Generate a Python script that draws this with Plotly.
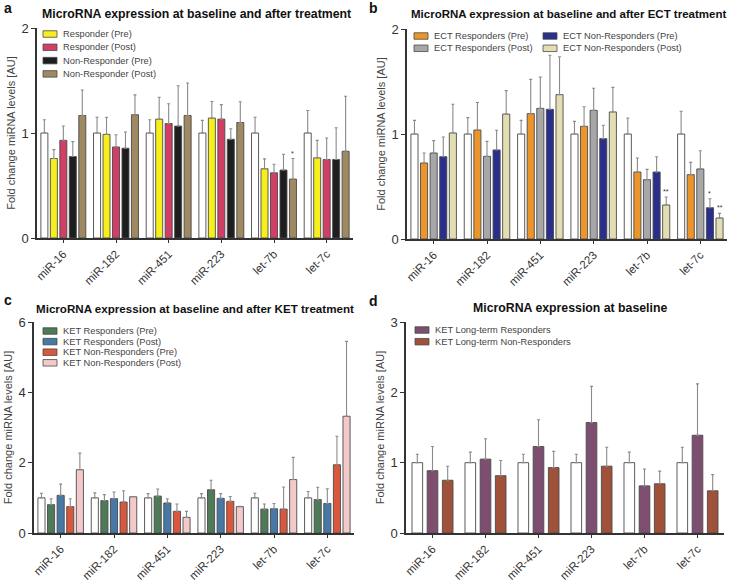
import plotly.graph_objects as go

W, H = 729, 583
FONT = "Arial, 'Liberation Sans', Helvetica, sans-serif"

categories = ["miR-16", "miR-182", "miR-451", "miR-223", "let-7b", "let-7c"]

# ---------------- Panel a ----------------
a_base_err = [0.126, 0.15, 0.126, 0.12, 0.15, 0.215]
a_names = ["Responder (Pre)", "Responder (Post)", "Non-Responder (Pre)", "Non-Responder (Post)"]
a_vals = [
    [0.757, 0.987, 1.132, 1.142, 0.659, 0.763],
    [0.930, 0.867, 1.090, 1.132, 0.621, 0.748],
    [0.776, 0.855, 1.066, 0.940, 0.647, 0.748],
    [1.167, 1.174, 1.167, 1.100, 0.561, 0.826],
]
a_errs = [
    [0.085, 0.163, 0.208, 0.158, 0.095, 0.167],
    [0.136, 0.117, 0.188, 0.138, 0.082, 0.205],
    [0.142, 0.155, 0.384, 0.100, 0.151, 0.302],
    [0.243, 0.189, 0.309, 0.197, 0.196, 0.524],
]
a_colors = ["#F7EE1E", "#D23F66", "#1E1E1E", "#9E8961"]
a_marks = [(4, 3, "*")]  # (category index, series index, label)

# ---------------- Panel b ----------------
b_base_err = [0.13, 0.156, 0.13, 0.12, 0.152, 0.216]
b_names = ["ECT Responders (Pre)", "ECT Responders (Post)", "ECT Non-Responders (Pre)", "ECT Non-Responders (Post)"]
b_vals = [
    [0.724, 1.038, 1.194, 1.073, 0.638, 0.613],
    [0.819, 0.787, 1.244, 1.225, 0.565, 0.667],
    [0.784, 0.848, 1.235, 0.956, 0.638, 0.298],
    [1.010, 1.190, 1.375, 1.210, 0.324, 0.200],
]
b_errs = [
    [0.095, 0.262, 0.326, 0.187, 0.133, 0.117],
    [0.118, 0.143, 0.299, 0.210, 0.098, 0.174],
    [0.187, 0.187, 0.515, 0.127, 0.146, 0.086],
    [0.273, 0.223, 0.361, 0.234, 0.076, 0.044],
]
b_colors = ["#EC952C", "#A7A7A9", "#2A2E8C", "#E3DEB2"]
b_marks = [(4, 3, "**"), (5, 2, "*"), (5, 3, "**")]

# ---------------- Panel c ----------------
c_base_err = [0.13, 0.14, 0.12, 0.12, 0.13, 0.18]
c_names = ["KET Responders (Pre)", "KET Responders (Post)", "KET Non-Responders (Pre)", "KET Non-Responders (Post)"]
c_vals = [
    [0.806, 0.920, 1.050, 1.230, 0.680, 0.950],
    [1.070, 0.976, 0.853, 0.986, 0.690, 0.840],
    [0.750, 0.880, 0.616, 0.900, 0.680, 1.940],
    [1.800, 1.030, 0.445, 0.750, 1.520, 3.320],
]
c_errs = [
    [0.170, 0.170, 0.200, 0.270, 0.145, 0.350],
    [0.320, 0.190, 0.123, 0.134, 0.150, 0.420],
    [0.226, 0.320, 0.209, 0.140, 0.630, 0.810],
    [0.470, 0.010, 0.171, 0.010, 0.630, 2.130],
]
c_colors = ["#4E7A57", "#4878A6", "#D9583D", "#F3C9C9"]
c_marks = []

# ---------------- Panel d ----------------
d_base_err = [0.12, 0.15, 0.12, 0.12, 0.15, 0.22]
d_names = ["KET Long-term Responders", "KET Long-term Non-Responders"]
d_vals = [
    [0.886, 1.050, 1.230, 1.570, 0.670, 1.390],
    [0.750, 0.815, 0.930, 0.950, 0.700, 0.600],
]
d_errs = [
    [0.344, 0.290, 0.380, 0.515, 0.240, 0.730],
    [0.200, 0.215, 0.230, 0.270, 0.180, 0.230],
]
d_colors = ["#7D4E6F", "#A0513A"]
d_marks = []

panel_titles = [
    "MicroRNA expression at baseline and after treatment",
    "MicroRNA expression at baseline and after ECT treatment",
    "MicroRNA expression at baseline and after KET treatment",
    "MicroRNA expression at baseline",
]
panel_letters = ["a", "b", "c", "d"]

# ---- layout geometry (pixels) ----
geom = [  # x-left, x-right, y-top, y-bottom of each plot area
    (37, 353, 28, 238),
    (407, 727, 29, 239),
    (34, 354, 322, 533),
    (406, 724, 322, 533),
]
yranges = [[0, 2], [0, 2], [0, 6], [0, 3]]
ydticks = [1, 1, 2, 1]
title_pos = [(197, 14), (568, 14), (195, 308), (570, 308)]
title_size = [12.3, 11.5, 11.6, 12.3]
letter_pos = [(2, 8), (367, 8), (2, 300), (367, 301)]
# legend: swatch left x, first row center y, row pitch, rows per column, column pitch
legend_geo = [
    (43, 34, 13.3, 4, 0),
    (414, 36, 12.3, 2, 129),
    (43, 331, 10.6, 4, 0),
    (415, 330, 11.7, 4, 0),
]
SW_W, SW_H = 14, 6.5

panels = [
    (a_base_err, a_names, a_vals, a_errs, a_colors, a_marks),
    (b_base_err, b_names, b_vals, b_errs, b_colors, b_marks),
    (c_base_err, c_names, c_vals, c_errs, c_colors, c_marks),
    (d_base_err, d_names, d_vals, d_errs, d_colors, d_marks),
]

fig = go.Figure()
annotations = []
shapes = []
OUTLINE = "#4a4a4a"
ERRC = "#8a8a8a"

for k, (base_err, names, vals, errs, colors, marks) in enumerate(panels):
    ax = "" if k == 0 else str(k + 1)
    xref, yref = "x" + ax, "y" + ax
    nbars = len(vals) + 1
    groupw = 0.86 if nbars == 3 else 0.9
    slot = groupw / nbars
    bw = slot * (0.70 if nbars == 3 else 0.74)

    def offset_of(i):
        return -groupw / 2 + i * slot + (slot - bw) / 2

    # baseline (white) bars
    fig.add_trace(go.Bar(
        x=categories, y=[1.0] * len(categories), name="Baseline",
        width=bw, offset=offset_of(0),
        marker=dict(color="white", line=dict(color=OUTLINE, width=0.9)),
        error_y=dict(type="data", symmetric=False, array=base_err,
                     arrayminus=[0] * len(base_err), color=ERRC, thickness=1.1, width=1.5),
        xaxis=xref, yaxis=yref, showlegend=False,
    ))
    for i, (nm, v, e, c) in enumerate(zip(names, vals, errs, colors)):
        fig.add_trace(go.Bar(
            x=categories, y=v, name=nm,
            width=bw, offset=offset_of(i + 1),
            marker=dict(color=c, line=dict(color=OUTLINE, width=0.9)),
            error_y=dict(type="data", symmetric=False, array=e,
                         arrayminus=[0] * len(e), color=ERRC, thickness=1.1, width=1.5),
            xaxis=xref, yaxis=yref, showlegend=False,
        ))
    for (ci, si, lab) in marks:
        annotations.append(dict(
            x=ci + offset_of(si + 1) + bw / 2, y=vals[si][ci] + errs[si][ci],
            xref=xref, yref=yref, text=lab, showarrow=False, yanchor="bottom",
            yshift=0, font=dict(size=7, color="#333", family=FONT),
        ))

    x0, x1, y0, y1 = geom[k]
    axis_common = dict(showline=True, linecolor="#333", linewidth=1.5, ticks="outside",
                       tickcolor="#333", tickwidth=1.2, showgrid=False,
                       zeroline=False, fixedrange=True)
    fig.update_layout(**{
        "xaxis" + ax: dict(domain=[x0 / W, x1 / W], anchor=yref, type="category",
                           range=[-0.5, 5.5], tickangle=-45, ticklen=3,
                           tickfont=dict(size=11.5, color="#333", family=FONT), **axis_common),
        "yaxis" + ax: dict(domain=[1 - y1 / H, 1 - y0 / H], anchor=xref, range=yranges[k],
                           dtick=ydticks[k], tick0=0, ticklen=4,
                           tickfont=dict(size=13, color="#333", family=FONT),
                           title=dict(text="Fold change miRNA levels [AU]", standoff=4,
                                      font=dict(size=11, color="#444", family=FONT)),
                           **axis_common),
    })

    # compact legend (swatch + label), like the original figure
    lx, ly, pitch, rows, colp = legend_geo[k]
    for i, (nm, c) in enumerate(zip(names, colors)):
        col, row = divmod(i, rows)
        sx = lx + col * colp
        sy = ly + row * pitch
        shapes.append(dict(type="rect", xref="paper", yref="paper",
                           x0=sx / W, x1=(sx + SW_W) / W,
                           y0=1 - (sy + SW_H / 2) / H, y1=1 - (sy - SW_H / 2) / H,
                           fillcolor=c, line=dict(color=OUTLINE, width=0.8)))
        annotations.append(dict(x=(sx + SW_W + 4) / W, y=1 - sy / H, xref="paper", yref="paper",
                                text=nm, showarrow=False, xanchor="left", yanchor="middle",
                                font=dict(size=9.3, color="#444", family=FONT)))

    tx, ty = title_pos[k]
    annotations.append(dict(x=tx / W, y=1 - ty / H, xref="paper", yref="paper",
                            text="<b>" + panel_titles[k] + "</b>", showarrow=False,
                            xanchor="center", yanchor="middle",
                            font=dict(size=title_size[k], color="#111", family=FONT)))
    lx2, ly2 = letter_pos[k]
    annotations.append(dict(x=lx2 / W, y=1 - ly2 / H, xref="paper", yref="paper",
                            text="<b>" + panel_letters[k] + "</b>", showarrow=False,
                            xanchor="left", yanchor="middle",
                            font=dict(size=14, color="#111", family=FONT)))

fig.update_layout(
    width=W, height=H, margin=dict(l=0, r=0, t=0, b=0, pad=0, autoexpand=False),
    paper_bgcolor="white", plot_bgcolor="white", showlegend=False,
    barmode="overlay", annotations=annotations, shapes=shapes,
    font=dict(family=FONT, color="#333"),
)

fig.write_html("out.html", config={"displayModeBar": False},
               post_script="document.body.style.margin='0';")
